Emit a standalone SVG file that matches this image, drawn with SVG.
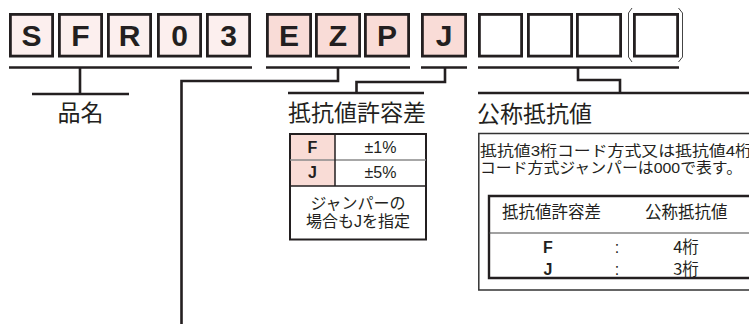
<svg xmlns="http://www.w3.org/2000/svg" width="749" height="324" viewBox="0 0 749 324">
<style>
.box{stroke:#231f20;stroke-width:2.8}
.p1{fill:#fcefee}
.p2{fill:#f9dcd7}
.w{fill:#ffffff}
.ch{font-family:"Liberation Sans",Arial,sans-serif;font-weight:bold;font-size:30px;fill:#231f20;text-anchor:middle}
.ln{fill:none;stroke:#231f20;stroke-width:2.6}
.jp{font-family:"Noto Sans CJK JP",sans-serif;fill:#231f20}
.jl{font-family:"Liberation Sans","Noto Sans CJK JP",sans-serif;fill:#231f20}
.big{font-size:23px}
.sm{font-size:16.5px}
.lat{font-family:"Liberation Sans",Arial,sans-serif;fill:#231f20;font-size:16px;text-anchor:middle}
.b{font-weight:bold}
.mid{text-anchor:middle}
.paren{fill:none;stroke:#444;stroke-width:1}
</style>
<rect width="749" height="324" fill="#ffffff"/>
<g id="code">
<g id="box-S"><rect class="box p1" x="10.4" y="14.4" width="42.2" height="41.7"/><text class="ch" x="31.5" y="46">S</text></g>
<g id="box-F"><rect class="box p1" x="59.4" y="14.4" width="42.2" height="41.7"/><text class="ch" x="80.5" y="46">F</text></g>
<g id="box-R"><rect class="box p1" x="108.4" y="14.4" width="42.2" height="41.7"/><text class="ch" x="129.5" y="46">R</text></g>
<g id="box-0"><rect class="box p1" x="158.4" y="14.4" width="42.2" height="41.7"/><text class="ch" x="179.5" y="46">0</text></g>
<g id="box-3"><rect class="box p1" x="207.4" y="14.4" width="42.2" height="41.7"/><text class="ch" x="228.5" y="46">3</text></g>
<g id="box-E"><rect class="box p2" x="267.4" y="14.4" width="43.2" height="41.7"/><text class="ch" x="289" y="46">E</text></g>
<g id="box-Z"><rect class="box p2" x="316.4" y="14.4" width="43.2" height="41.7"/><text class="ch" x="338" y="46">Z</text></g>
<g id="box-P"><rect class="box p2" x="365.4" y="14.4" width="43.2" height="41.7"/><text class="ch" x="387" y="46">P</text></g>
<g id="box-J"><rect class="box p2" x="422.4" y="14.4" width="43.2" height="41.7"/><text class="ch" x="444" y="46">J</text></g>
<g id="box-b1"><rect class="box w" x="479.4" y="14.4" width="42.2" height="41.7"/></g>
<g id="box-b2"><rect class="box w" x="528.4" y="14.4" width="43.2" height="41.7"/></g>
<g id="box-b3"><rect class="box w" x="577.4" y="14.4" width="43.2" height="41.7"/></g>
<g id="box-b4"><rect class="box w" x="634.4" y="14.4" width="43.2" height="41.7"/>
<path class="paren" d="M632,8 L628.5,13 L628.5,57 L632,62"/>
<path class="paren" d="M678.5,8 L682.5,13 L682.5,57 L678.5,62"/></g>
</g>
<g id="connectors">
<path class="ln" d="M9,67.5 H252 M266,67.5 H410 M421,67.5 H467 M478,67.5 H679"/>
<path class="ln" d="M80,67.5 V94 M32,94 H129"/>
<path class="ln" d="M338,67.5 V81 H181.5 V324"/>
<path class="ln" d="M445,67.5 V82 H356.5 V93 M288,93 H424"/>
<path class="ln" d="M578,67.5 V80 H620 V93 M478,93 H749"/>
</g>
<g id="label-name"><text class="jp big mid" x="80.5" y="121">品名</text></g>
<g id="tolerance">
<text class="jp big" x="288" y="121">抵抗値許容差</text>
<rect x="290" y="134" width="45" height="52" fill="#f9dcd6"/>
<rect x="290" y="134" width="136" height="105.5" fill="none" stroke="#231f20" stroke-width="2"/>
<path d="M290,160 H426" stroke="#8a8a8a" stroke-width="1.5" fill="none"/>
<path d="M335,134 V186 M290,186 H426" stroke="#231f20" stroke-width="1.5" fill="none"/>
<text class="lat b" x="312.5" y="153">F</text>
<text class="lat" x="380.5" y="153">±1%</text>
<text class="lat b" x="312.5" y="178">J</text>
<text class="lat" x="380.5" y="178">±5%</text>
<text class="jl mid" font-size="16" x="358" y="208.7">ジャンパーの</text>
<text class="jl mid" font-size="16" x="358" y="227.3">場合もJを指定</text>
</g>
<g id="nominal">
<text class="jp big" x="477" y="122">公称抵抗値</text>
<path d="M749,133.5 H478.8 V290 H749" fill="none" stroke="#333" stroke-width="1.5"/>
<text class="jl" font-size="15" x="480" y="155.5" textLength="272" lengthAdjust="spacingAndGlyphs">抵抗値3桁コード方式又は抵抗値4桁</text>
<text class="jl" font-size="15" x="480" y="172.5" textLength="262" lengthAdjust="spacingAndGlyphs">コード方式ジャンパーは000で表す。</text>
<path d="M749,196 H489 V278 H749" fill="none" stroke="#231f20" stroke-width="2.4"/>
<path d="M489,233 H749" fill="none" stroke="#444" stroke-width="1.2"/>
<text class="jp sm" x="502" y="218">抵抗値許容差</text>
<text class="jp sm" x="645" y="218">公称抵抗値</text>
<text class="lat b" x="548" y="253">F</text>
<text class="lat" x="617" y="253">:</text>
<text class="jp sm mid" x="686" y="253">4桁</text>
<text class="lat b" x="548" y="275">J</text>
<text class="lat" x="617" y="275">:</text>
<text class="jp sm mid" x="686" y="275">3桁</text>
</g>
</svg>
